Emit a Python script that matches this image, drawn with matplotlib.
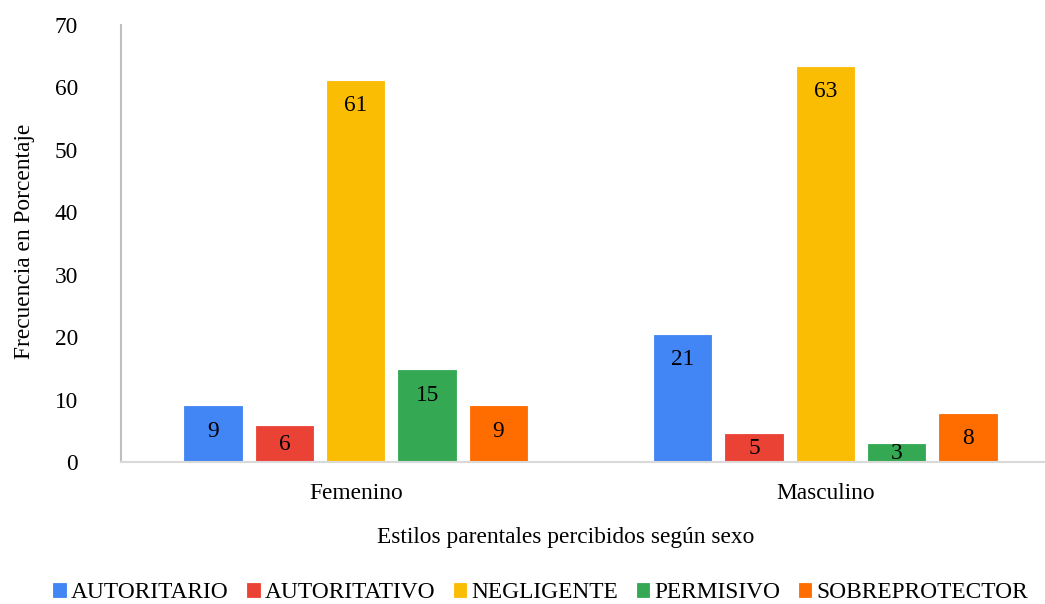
import matplotlib
matplotlib.use("Agg")
import matplotlib.pyplot as plt
import numpy as np

categories = ["Femenino", "Masculino"]
series = ["AUTORITARIO", "AUTORITATIVO", "NEGLIGENTE", "PERMISIVO", "SOBREPROTECTOR"]
autoritario = [9.0, 20.4]
autoritativo = [5.8, 4.5]
negligente = [61.1, 63.3]
permisivo = [14.7, 2.9]
sobreprotector = [9.0, 7.7]
labels_autoritario = ["9", "21"]
labels_autoritativo = ["6", "5"]
labels_negligente = ["61", "63"]
labels_permisivo = ["15", "3"]
labels_sobreprotector = ["9", "8"]
colors = ["#4285F4", "#EA4335", "#FBBC04", "#34A853", "#FF6D01"]
yticks = [0, 10, 20, 30, 40, 50, 60, 70]

values = [autoritario, autoritativo, negligente, permisivo, sobreprotector]
labels = [labels_autoritario, labels_autoritativo, labels_negligente,
          labels_permisivo, labels_sobreprotector]

FS = 16.8
plt.rcParams["font.family"] = ["Liberation Serif", "DejaVu Serif"]
plt.rcParams["font.size"] = FS

W, H = 1045, 604
fig = plt.figure(figsize=(W / 100, H / 100), dpi=100)
ax_left, ax_right = 121, 1045
ax_bottom, ax_top = 604 - 462.3, 604 - 25
ax = fig.add_axes([ax_left / W, ax_bottom / H, (ax_right - ax_left) / W,
                   (ax_top - ax_bottom) / H])

x = np.arange(len(categories))
slot = 0.152
width = 0.122
ymax = 70
px_per_unit = (ax_top - ax_bottom) / ymax
offset_units = 25 / px_per_unit

for i, (name, vals, labs, c) in enumerate(zip(series, values, labels, colors)):
    pos = x + (i - 2) * slot
    ax.bar(pos, vals, width, color=c, label=name, zorder=2,
           edgecolor=c, linewidth=0.6)
    for xp, v, lab in zip(pos, vals, labs):
        ypos = max(v - offset_units, v / 2)
        ax.text(xp, ypos, lab, ha="center", va="center", fontsize=FS,
                color="black", zorder=3)

ax.set_ylim(0, ymax)
ax.set_yticks(yticks)
ax.set_xlim(-0.5, 1.468)
ax.set_xticks(x)
ax.set_xticklabels(categories)
ax.tick_params(axis="y", length=0, pad=31, labelsize=FS)
ax.tick_params(axis="x", length=0, pad=15, labelsize=FS)
for s in ["top", "right"]:
    ax.spines[s].set_visible(False)
ax.spines["left"].set_color("#bfbfbf")
ax.spines["left"].set_linewidth(1.5)
ax.spines["bottom"].set_color("#d9d9d9")
ax.spines["bottom"].set_linewidth(1.5)

fig.text(25 / W, 1 - 241.5 / H, "Frecuencia en Porcentaje", rotation=90,
         ha="center", va="center", fontsize=FS)
fig.text(566 / W, 1 - 538 / H, "Estilos parentales percibidos según sexo",
         ha="center", va="center", fontsize=FS)

fig.legend(loc="center", bbox_to_anchor=(541 / W, 1 - 593 / H), ncol=5,
           frameon=False, fontsize=FS, handlelength=0.52, handleheight=0.52,
           handletextpad=0.23, columnspacing=0.8, borderpad=0, borderaxespad=0)

fig.savefig("out.png", dpi=100)
